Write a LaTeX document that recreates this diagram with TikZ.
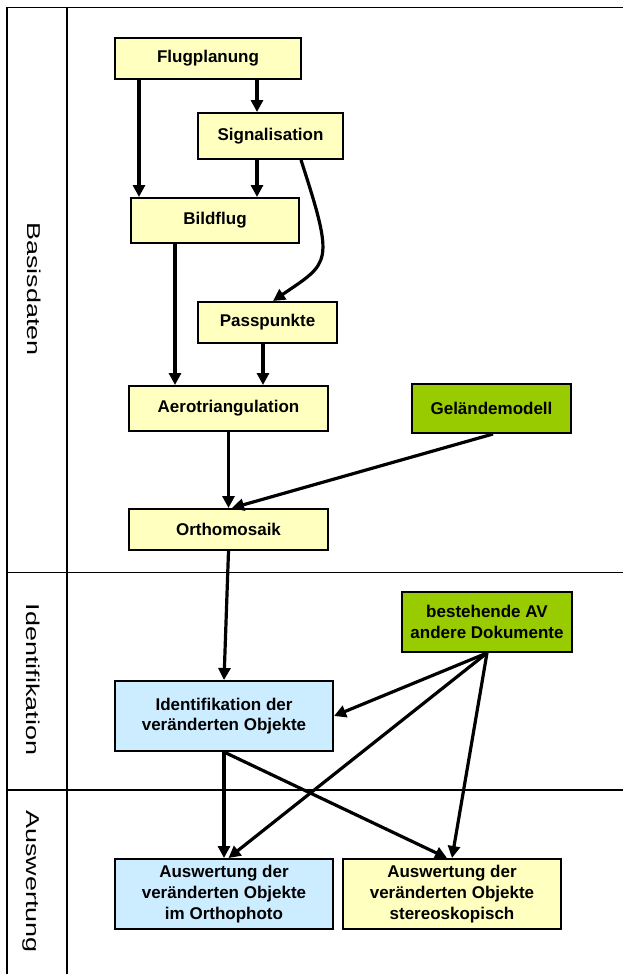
\documentclass[tikz,border=0pt]{standalone}
\usepackage{fontspec}
\setmainfont{Liberation Sans}
\newfontfamily\lanefont[FakeStretch=1.45]{Liberation Sans}
\usetikzlibrary{arrows.meta}
\definecolor{boxyellow}{HTML}{FFFFC0}
\definecolor{boxgreen}{HTML}{99CC00}
\definecolor{boxblue}{HTML}{CCECFF}
\tikzset{
  stepbox/.style={draw=black, line width=2pt, inner sep=0pt, align=center,
    font=\bfseries\fontsize{17}{20.7}\selectfont},
  yel/.style={stepbox, fill=boxyellow},
  grn/.style={stepbox, fill=boxgreen},
  blu/.style={stepbox, fill=boxblue},
  arr/.style={line width=3.2pt, -{Triangle[length=12pt,width=12pt]}},
  lane/.style={line width=1.5pt},
  lanelabel/.style={rotate=-90, anchor=base, inner sep=0pt,
    font=\lanefont\fontsize{18.6}{20}\selectfont}
}
\begin{document}
\begin{tikzpicture}[x=1pt,y=-1pt]
\useasboundingbox (0,0) rectangle (623,974);
% swimlanes
\coordinate (tl) at (7,7.3);
\coordinate (tr) at (623,7.3);
\coordinate (bl) at (7,974);
\coordinate (il) at (67,7.3);
\coordinate (ib) at (67,974);
\coordinate (d1l) at (7,572.3);
\coordinate (d1r) at (623,572.3);
\coordinate (d2l) at (7,790);
\coordinate (d2r) at (623,790);
\draw[lane] (tl) -- (tr);
\draw[lane] (tl) -- (bl);
\draw[lane] (il) -- (ib);
\draw[lane] (d1l) -- (d1r);
\draw[lane] (d2l) -- (d2r);
\node[lanelabel] (lb) at (27.5,289) {Basisdaten};
\node[lanelabel] (li) at (27,679.5) {Identifikation};
\node[lanelabel] (la) at (27,881.5) {Auswertung};
% boxes
\node[yel, minimum width=186, minimum height=41] (flug) at (208,58.5) {Flugplanung};
\node[yel, minimum width=145, minimum height=46] (sig) at (270.5,136) {Signalisation};
\node[yel, minimum width=168, minimum height=45] (bild) at (215,220.5) {Bildflug};
\node[yel, minimum width=139, minimum height=41] (pass) at (267.5,322.5) {Passpunkte};
\node[yel, minimum width=199, minimum height=45] (aero) at (228.5,408.5) {Aerotriangulation};
\node[grn, minimum width=159, minimum height=49] (gel) at (491.5,408.5) {Geländemodell};
\node[yel, minimum width=199, minimum height=41] (ortho) at (228.5,529.5) {Orthomosaik};
\node[grn, minimum width=170, minimum height=60] (best) at (487,622) {bestehende AV\\andere Dokumente};
\node[blu, minimum width=218, minimum height=70] (ident) at (224,716) {Identifikation der\\veränderten Objekte};
\node[blu, minimum width=218, minimum height=70] (ausO) at (224,894) {Auswertung der\\veränderten Objekte\\im Orthophoto};
\node[yel, minimum width=218, minimum height=70] (ausS) at (452,894) {Auswertung der\\veränderten Objekte\\stereoskopisch};
% connectors
\draw[arr] ([xshift=-69pt]flug.south) -- ([xshift=-76pt]bild.north);
\draw[arr] ([xshift=49pt]flug.south) -- ([xshift=-13.5pt]sig.north);
\draw[arr] ([xshift=-13.5pt]sig.south) -- ([xshift=42pt]bild.north);
\draw[arr] ([xshift=30.5pt]sig.south) .. controls (335,265) and (330,262) .. ([xshift=5.5pt]pass.north);
\draw[arr] ([xshift=-40pt]bild.south) -- ([xshift=-53.5pt]aero.north);
\draw[arr] ([xshift=-4.5pt]pass.south) -- ([xshift=34.5pt]aero.north);
\draw[arr] (aero.south) -- (ortho.north);
\draw[arr] ([xshift=1.5pt]gel.south) -- ([xshift=3.5pt]ortho.north);
\draw[arr] (ortho.south) -- (ident.north);
\draw[arr] (best.south) -- (ident.east);
\draw[arr] (best.south) -- ([xshift=4.5pt]ausO.north);
\draw[arr] (best.south) -- (ausS.north);
\draw[arr] (ident.south) -- (ausO.north);
\draw[arr] (ident.south) -- ([xshift=-5pt]ausS.north);
\end{tikzpicture}
\end{document}
